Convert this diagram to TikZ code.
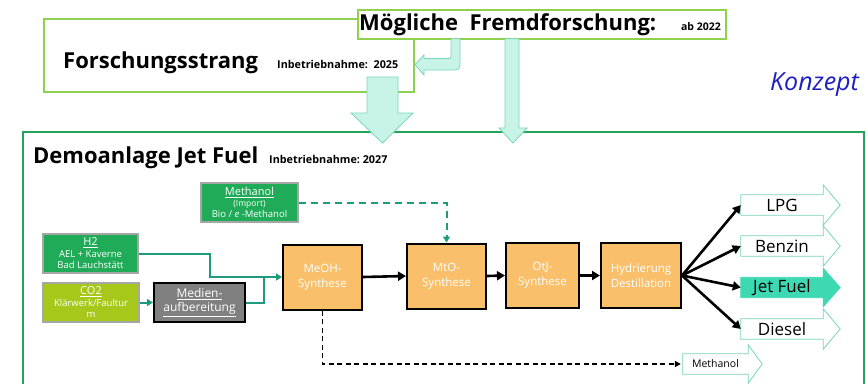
\documentclass[tikz,border=0pt]{standalone}
\usepackage{fontspec}
\setmainfont{Open Sans}
\usetikzlibrary{arrows.meta,calc}
\definecolor{lgreen}{HTML}{8FD14F}
\definecolor{dgreen}{HTML}{22A559}
\definecolor{aquafill}{HTML}{C8F4E8}
\definecolor{aquadraw}{HTML}{78D5BC}
\definecolor{jetfill}{HTML}{3DD9B3}
\definecolor{srcgreen}{HTML}{1FAB58}
\definecolor{co2green}{HTML}{A5C81A}
\definecolor{procorange}{HTML}{F9BF6A}
\definecolor{tealline}{HTML}{1E9B7E}
\definecolor{konzeptblue}{HTML}{1F1FBF}
\newcommand\fs[1]{\fontsize{#1}{#1}\selectfont}
\begin{document}
\begin{tikzpicture}[x=1pt,y=-1pt,
  frame/.style={draw=lgreen, line width=2pt, fill=white, inner sep=0pt, anchor=north west},
  demoframe/.style={draw=dgreen, line width=2.2pt, inner sep=0pt, anchor=north west},
  title/.style={anchor=base west, inner sep=0pt, font=\bfseries\fs{22}},
  small/.style={anchor=base west, inner sep=0pt, font=\bfseries\fs{10.8}},
  fatarrow/.style={draw=aquadraw, fill=aquafill, line width=0.8pt, line join=miter},
  src/.style={draw=black!35, line width=1.5pt, fill=srcgreen, text=white, align=center,
    inner sep=0pt, minimum height=39pt, font=\fontsize{9.5}{11.5}\selectfont},
  proc/.style={draw=black, line width=2pt, fill=procorange, text=white, align=center,
    inner sep=0pt, minimum height=65pt, font=\fontsize{11.5}{15}\selectfont},
  shaft/.style={inner sep=0pt, minimum height=20pt},
  outarr/.style={draw=aquadraw, fill=white, line width=0.8pt, line join=miter},
  outlbl/.style={inner sep=0pt, font=\fs{17}},
  flow/.style={draw=black, line width=2.6pt, -{Triangle[length=8pt,width=9pt]}},
  feed/.style={draw=tealline, line width=2pt},
  feedarr/.style={feed, -{Triangle[length=6pt,width=7pt]}},
  dfeed/.style={draw=tealline, line width=2pt, dash pattern=on 7pt off 5pt, -{Triangle[length=6pt,width=7pt]}},
  dblack/.style={draw=black, line width=1.3pt, dash pattern=on 5pt off 3.5pt, -{Triangle[length=6pt,width=6pt]}}
]
\useasboundingbox (0,0) rectangle (866,383);
\fill[white] (0,0) rectangle (866,383);

% Forschungsstrang frame
\node[frame, minimum width=370pt, minimum height=73pt] (forsch) at (43,18) {};
\node[title] (forschT) at (63,68.5) {Forschungsstrang};
\node[small] (forschS) at (277,68.5) {Inbetriebnahme:\ \ 2025};

% Demoanlage frame
\node[demoframe, minimum width=841pt, minimum height=280pt] (demo) at (22,131) {};
\node[title] (demoT) at (33,163) {Demoanlage Jet Fuel};
\node[small] (demoS) at (269,163) {Inbetriebnahme:\ 2027};

% big arrow Forschung -> Demo
\draw[fatarrow] (367,77) -- (398,77) -- (398,113) -- (413,113) -- (382.5,143) -- (351,113) -- (367,113) -- cycle;

% Fremdforschung frame
\node[frame, minimum width=368pt, minimum height=29pt] (fremd) at (357,9) {};
\node[anchor=base west, inner sep=0pt, font=\bfseries\fs{22}] (fremdT) at (359,30.5) {Mögliche\ \ Fremdforschung:};
\node[anchor=base east, inner sep=0pt, font=\bfseries\fs{10.5}] (fremdS) at (721,30.5) {ab 2022};

% bent arrow Fremd -> Forschung
\draw[fatarrow] (451,38.8) -- (460,38.8) -- (460,60) .. controls (460,70) .. (450,70) -- (424,70)
  -- (424,75) -- (415,64.5) -- (424,55) -- (424,58.5) -- (447,58.5) .. controls (451,58.5) .. (451,54) -- cycle;

% long arrow Fremd -> Demo
\draw[fatarrow] (505,38.8) -- (519,38.8) -- (519,128) -- (527,128) -- (513,143) -- (499,128) -- (505,128) -- cycle;

% Konzept
\node[anchor=base west, inner sep=0pt, text=konzeptblue, font=\itshape\fs{25}] (konzept) at (770,90) {Konzept};

% sources
\node[src, minimum width=97pt] (methsrc) at (249.5,202.5)
  {{\fs{11}\underline{Methanol}}\\[-1pt] {\fs{8.5}(Import)}\\ Bio / \textit{e} -Methanol};
\node[src, minimum width=95pt] (h2) at (90.5,253.5)
  {{\fs{11}\underline{H2}}\\ AEL + Kaverne\\ Bad Lauchstätt};
\node[src, fill=co2green, minimum width=96pt] (co2) at (91,302.5)
  {{\fs{11}\underline{CO2}}\\ Klärwerk/Faultur\\ m};
\node[draw=black, line width=2pt, fill=black!50, text=white, align=center, inner sep=0pt,
  minimum width=91pt, minimum height=39pt, font=\fontsize{12}{14}\selectfont] (medien) at (199.5,302.5)
  {\underline{Medien-}\\ \underline{aufbereitung}};

% process boxes
\node[proc, minimum width=79pt] (meoh) at (322.5,277) {MeOH-\\Synthese};
\node[proc, minimum width=79pt] (mto) at (446.5,276) {MtO-\\Synthese};
\node[proc, minimum width=73pt] (otj) at (542.5,275.5) {OtJ-\\Synthese};
\node[proc, minimum width=80pt] (hyd) at (641,275.5) {Hydrierung\\Destillation};

% output arrows
\newcommand\outshape[4]{% node, style, head extend, tip length
  \path[#2] (#1.south west) -- (#1.north west) -- (#1.north east) -- ($(#1.north east)+(0,-#3)$)
    -- ($(#1.east)+(#4,0)$) -- ($(#1.south east)+(0,#3)$) -- (#1.south east) -- cycle;}
\node[shaft, minimum width=82pt] (lpg) at (782,205) {};
\node[shaft, minimum width=82pt] (benzin) at (782,246) {};
\node[shaft, minimum width=82pt] (jet) at (782,287.5) {};
\node[shaft, minimum width=82pt] (diesel) at (782,329) {};
\node[shaft, minimum width=65pt] (methout) at (715.5,364) {};
\outshape{lpg}{outarr}{10}{17}
\outshape{benzin}{outarr}{10}{17}
\outshape{jet}{outarr,fill=jetfill,draw=jetfill}{9}{17}
\outshape{diesel}{outarr}{10}{17}
\outshape{methout}{outarr}{9}{14}
\node[outlbl] (lpgL) at (lpg) {LPG};
\node[outlbl] (benzinL) at (benzin) {Benzin};
\node[outlbl] (jetL) at (jet) {Jet Fuel};
\node[outlbl] (dieselL) at (diesel) {Diesel};
\node[inner sep=0pt, font=\fs{10.5}] (methoutL) at (methout) {Methanol};

% feed connectors
\coordinate (j1) at (210,277);
\coordinate (j2) at (264,277);
\draw[feedarr] (h2.east) -| (j1) -- (meoh.west);
\draw[feed] (medien.east) -| (j2);
\draw[feedarr] (co2.east) -- (medien.west);
\draw[dfeed] (methsrc.east) -| (mto.north);

% main flow
\draw[flow] (meoh.east) -- (mto.west);
\draw[flow] (mto.east) -- (otj.west);
\draw[flow] (otj.east) -- (hyd.west);
\draw[flow] (hyd.east) -- (lpg.west);
\draw[flow] (hyd.east) -- (benzin.west);
\draw[flow] (hyd.east) -- (jet.west);
\draw[flow] (hyd.east) -- (diesel.west);

% methanol bypass
\draw[dblack, shorten >=2pt] (meoh.south) |- (methout.west);
\end{tikzpicture}
\end{document}
